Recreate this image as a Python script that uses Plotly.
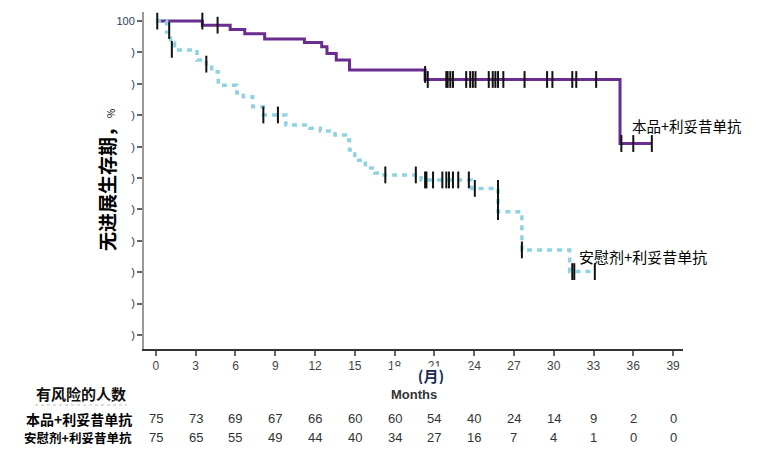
import plotly.graph_objects as go

# ---------------- data ----------------
months_ticks = [0, 3, 6, 9, 12, 15, 18, 21, 24, 27, 30, 33, 36, 39]
y_ticks = [0, 10, 20, 30, 40, 50, 60, 70, 80, 90, 100]
y_ticktext = [")", ")", ")", ")", ")", ")", ")", ")", ")", ")", "100"]

name_a = "本品+利妥昔单抗"
name_b = "安慰剂+利妥昔单抗"

a_time = [0, 3.5, 5.6, 6.7, 8.2, 11.2, 12.5, 12.9, 13.6, 14.6, 20.3, 35.0, 37.4]
a_surv = [100, 98.7, 97.3, 96.0, 94.3, 93.2, 91.8, 89.7, 87.6, 84.4, 81.4, 61.0, 61.0]

a_cens_t = [0.1, 3.5, 4.65, 20.3, 20.5, 21.9, 22.0, 22.2, 22.4, 23.4, 23.7, 23.9, 24.1,
            25.1, 25.4, 25.6, 25.8, 26.2, 27.8, 29.5, 29.9, 31.4, 31.7, 33.2, 35.1, 36.0, 37.4]
a_cens_s = [100, 100, 98.7, 83.0, 81.4, 81.4, 81.4, 81.4, 81.4, 81.4, 81.4, 81.4, 81.4,
            81.4, 81.4, 81.4, 81.4, 81.4, 81.4, 81.4, 81.4, 81.4, 81.4, 81.4, 61.0, 61.0, 61.0]

b_time = [0, 0.8, 1.1, 1.4, 3.1, 3.8, 4.2, 4.7, 6.1, 6.6, 7.3, 8.1, 9.8, 11.6, 12.4, 13.5,
          14.3, 14.6, 15.0, 15.8, 16.5, 17.2, 20.0, 23.8, 25.8, 27.6, 31.2, 33.1]
b_surv = [100, 96.5, 93.0, 90.8, 87.6, 86.3, 83.9, 79.6, 77.1, 75.9, 72.7, 70.1, 66.9, 65.9,
          65.0, 63.7, 62.1, 58.9, 55.7, 53.2, 51.6, 51.0, 49.4, 46.7, 39.3, 27.1, 20.2, 20.2]

b_cens_t = [1.0, 1.2, 3.8, 8.1, 9.2, 17.3, 19.6, 20.3, 20.4, 20.9, 21.6, 21.9, 22.1, 22.4,
            22.8, 23.6, 24.05, 25.8, 25.8, 25.8, 27.6, 31.4, 31.55, 33.1]
b_cens_s = [97.0, 91.0, 86.3, 70.1, 70.1, 51.0, 51.0, 49.4, 49.4, 49.4, 49.4, 49.4, 49.4, 49.4,
            49.4, 49.4, 46.7, 46.7, 43.0, 39.3, 27.1, 20.2, 20.2, 20.2]

risk_a = [75, 73, 69, 67, 66, 60, 60, 54, 40, 24, 14, 9, 2, 0]
risk_b = [75, 65, 55, 49, 44, 40, 34, 27, 16, 7, 4, 1, 0, 0]

# ---------------- styles ----------------
PURPLE = "#6b2c8f"
BLUE = "#8fd3e2"
CJK = "Noto Sans CJK SC"
LAT = "Liberation Sans, Arial"

# plot area in window pixels (page body has an 8px margin)
PL, PR, PT, PB = 144, 683, 12, 349
PW, PH = PR - PL, PB - PT


def px(xp):
    return (xp - PL) / PW


def py(yp):
    return (PB - yp) / PH


fig = go.Figure()
fig.add_trace(go.Scatter(x=a_time, y=a_surv, mode="lines", line_shape="hv",
                         line=dict(color=PURPLE, width=3), showlegend=False))
fig.add_trace(go.Scatter(x=b_time, y=b_surv, mode="lines", line_shape="hv",
                         line=dict(color=BLUE, width=3.5, dash="5px,5px"), showlegend=False))
for ct, cs in ((a_cens_t, a_cens_s), (b_cens_t, b_cens_s)):
    fig.add_trace(go.Scatter(x=ct, y=cs, mode="markers",
                             marker=dict(symbol="line-ns-open", size=12, color="#111",
                                         line=dict(color="#111", width=2)),
                             showlegend=False))

ann = []
# curve labels
ann.append(dict(x=35.75, y=66.9, xref="x", yref="y", text=name_a, showarrow=False,
                xanchor="left", yanchor="middle", font=dict(family=CJK, size=14.5, color="#000")))
ann.append(dict(x=31.75, y=24.9, xref="x", yref="y", text=name_b, showarrow=False,
                xanchor="left", yanchor="middle", font=dict(family=CJK, size=15, color="#000")))
# y title
ann.append(dict(x=px(106), y=py(180), xref="paper", yref="paper",
                text="<b>无进展生存期，</b><span style='font-size:10px'>%</span>",
                textangle=-90, showarrow=False, xanchor="center", yanchor="middle",
                font=dict(family=CJK, size=19, color="#000")))
# x title
ann.append(dict(x=px(414), y=py(394), xref="paper", yref="paper",
                text="<b>Months</b>", showarrow=False, xanchor="center", yanchor="middle",
                font=dict(family=LAT, size=13, color="#333")))
ann.append(dict(x=px(431), y=py(375), xref="paper", yref="paper",
                text="<b>(月)</b>", showarrow=False, xanchor="center", yanchor="middle",
                width=76, height=17, bgcolor="#ffffff", borderpad=0,
                font=dict(family=CJK, size=15, color="#1c2a55")))
# risk table
ann.append(dict(x=px(81), y=py(393), xref="paper", yref="paper",
                text="<b>有风险的人数</b>", showarrow=False, xanchor="center", yanchor="middle",
                font=dict(family=CJK, size=15, color="#111")))
ann.append(dict(x=px(134), y=py(418.5), xref="paper", yref="paper",
                text="<b>" + name_a + "</b>", showarrow=False, xanchor="right", yanchor="middle",
                font=dict(family=CJK, size=14, color="#000")))
ann.append(dict(x=px(134), y=py(437), xref="paper", yref="paper",
                text="<b>" + name_b + "</b>", showarrow=False, xanchor="right", yanchor="middle",
                font=dict(family=CJK, size=12.5, color="#000")))
for m, ra, rb in zip(months_ticks, risk_a, risk_b):
    ann.append(dict(x=m, y=py(418.5), xref="x", yref="paper", text=str(ra),
                    showarrow=False, xanchor="center", yanchor="middle",
                    font=dict(family=LAT, size=13, color="#333")))
    ann.append(dict(x=m, y=py(437), xref="x", yref="paper", text=str(rb),
                    showarrow=False, xanchor="center", yanchor="middle",
                    font=dict(family=LAT, size=13, color="#333")))

shapes = [dict(type="line", xref="paper", yref="paper",
               x0=px(35), x1=px(127), y0=py(405), y1=py(405),
               line=dict(color="#bbbbbb", width=1, dash="dot"))]

fig.update_layout(
    width=771, height=461,
    margin=dict(l=PL - 8, r=771 - PR + 8, t=PT - 8, b=461 - PB + 8),
    paper_bgcolor="white", plot_bgcolor="white",
    annotations=ann, shapes=shapes,
    xaxis=dict(range=[-0.9, 39.75], tickvals=months_ticks, showgrid=False, zeroline=False,
               showline=True, linecolor="#333", linewidth=1.5, ticks="outside", ticklen=5,
               tickcolor="#666", tickwidth=1.5, tickfont=dict(family=LAT, size=12, color="#444")),
    yaxis=dict(range=[-4.46, 102.9], tickvals=y_ticks, ticktext=y_ticktext, showgrid=False,
               zeroline=False, showline=True, linecolor="#999", linewidth=2, ticks="outside",
               ticklen=5, tickcolor="#666", tickwidth=1.5,
               tickfont=dict(family=LAT, size=11, color="#2a3a60")),
)

fig.write_html("out.html")
